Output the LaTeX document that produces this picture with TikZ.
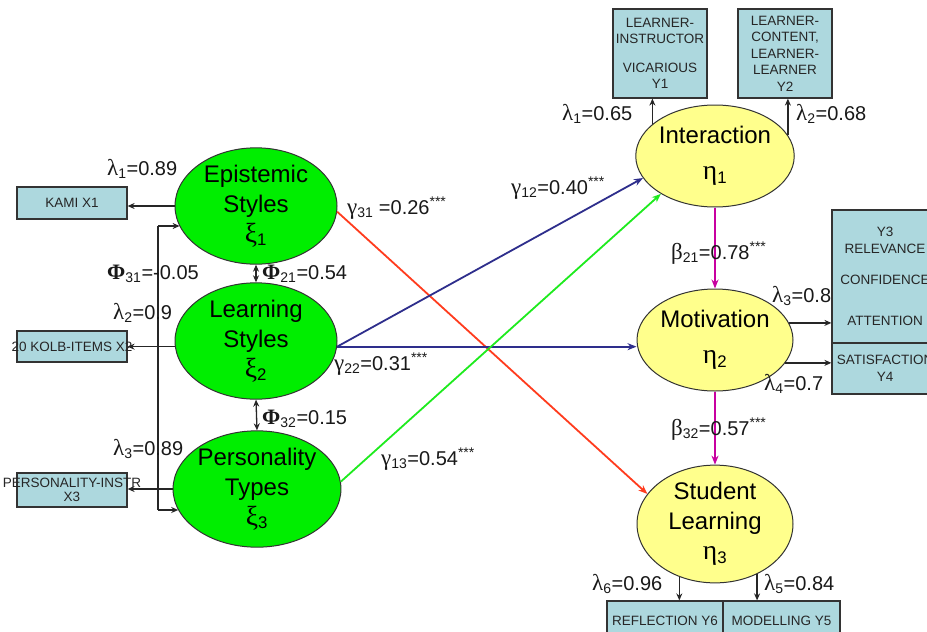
\documentclass[tikz,border=0pt]{standalone}
\usepackage{fontspec}
\setmainfont{Liberation Sans}
\newfontfamily\grk{Liberation Serif}
\usetikzlibrary{shapes.geometric,arrows.meta}
\definecolor{boxfill}{RGB}{173,216,222}
\definecolor{latgreen}{RGB}{0,238,0}
\definecolor{latyellow}{RGB}{255,255,140}
\definecolor{pathred}{RGB}{255,60,30}
\definecolor{pathnavy}{RGB}{46,46,140}
\definecolor{pathgreen}{RGB}{30,235,30}
\definecolor{pathmag}{RGB}{200,0,160}
% zero-width centred line, so long labels spill evenly past their box
\newcommand{\cw}[1]{\makebox[0pt]{#1}}
% upright Greek letters, a little larger than the Latin text
\newcommand{\gk}[1]{\scalebox{1.15}{\grk #1}}
\newcommand{\gkb}[1]{\scalebox{1.1}{\grk\bfseries #1}}
\begin{document}
\begin{tikzpicture}[x=1pt,y=-1pt,
  latent/.style={ellipse, draw=black!80, line width=1pt, minimum width=162pt,
    minimum height=102pt, inner sep=0pt, align=center,
    font=\fontsize{24}{30}\selectfont},
  exo/.style={latent, fill=latgreen},
  endo/.style={latent, fill=latyellow, minimum width=156pt},
  obs/.style={draw=black!80, line width=1.2pt, fill=boxfill, inner sep=0pt,
    align=center, font=\fontsize{13.5}{16.5}\selectfont, text=black!85},
  arr/.style={-{Stealth[length=7pt,width=6pt]}, line width=1.3pt, draw=black!85},
  dbl/.style={{Stealth[length=7pt,width=6pt]}-{Stealth[length=7pt,width=6pt]},
    line width=1.3pt, draw=black!85},
  gpath/.style={-{Stealth[length=9pt,width=7pt]}, line width=1.8pt},
  coef/.style={font=\fontsize{20}{24}\selectfont, text=black!90, inner sep=0pt,
    anchor=base west},
]
\useasboundingbox (0,0) rectangle (927,632);
\clip (0,0) rectangle (927,632);
\fill[white] (0,0) rectangle (927,632);

% observed indicators
\node[obs, minimum width=110pt, minimum height=32pt] (kami) at (72,203) {\cw{KAMI X1}};
\node[obs, minimum width=110pt, minimum height=31pt] (kolb) at (72,346.5) {\cw{20 KOLB-ITEMS X2}};
\node[obs, minimum width=110pt, minimum height=34pt, font=\fontsize{13.5}{14}\selectfont]
  (pers) at (72,490) {\cw{PERSONALITY-INSTR}\\\cw{X3}};
\node[obs, minimum width=94pt, minimum height=89pt] (y1) at (660,53.5)
  {\cw{LEARNER-}\\\cw{INSTRUCTOR}\\[12pt]\cw{VICARIOUS}\\\cw{Y1}};
\node[obs, minimum width=94pt, minimum height=89pt] (y2) at (785,53.5)
  {\cw{LEARNER-}\\\cw{CONTENT,}\\\cw{LEARNER-}\\\cw{LEARNER}\\\cw{Y2}};
\node[obs, minimum width=106pt, minimum height=133pt] (y3) at (885,276.5)
  {\cw{Y3}\\\cw{RELEVANCE}\\[15pt]\cw{CONFIDENCE}\\[24pt]\cw{ATTENTION}};
\node[obs, minimum width=106pt, minimum height=51pt] (y4) at (885,368.5)
  {\cw{SATISFACTION}\\\cw{Y4}};
\node[obs, minimum width=116pt, minimum height=40pt] (y6) at (665,621) {\cw{REFLECTION Y6}};
\node[obs, minimum width=117pt, minimum height=40pt] (y5) at (781.5,621) {\cw{MODELLING Y5}};

% latent variables
\node[exo] (epi) at (256,206) {Epistemic\\Styles\\\gk{ξ}\textsubscript{1}};
\node[exo] (ls) at (256,341) {Learning\\Styles\\\gk{ξ}\textsubscript{2}};
\node[exo] (pt) at (257,489) {Personality\\Types\\\gk{ξ}\textsubscript{3}};
\node[endo] (int) at (715,156) {Interaction\\[6pt]\gk{η}\textsubscript{1}};
\node[endo] (mot) at (715,340) {Motivation\\[6pt]\gk{η}\textsubscript{2}};
\node[endo] (sl) at (715,524) {Student\\Learning\\\gk{η}\textsubscript{3}};

% measurement arrows
\draw[arr] (epi.west) -- (epi.west -| kami.east);
\draw[arr] (ls.184.2) -- (ls.184.2 -| kolb.east);
\draw[arr] (pt.west) -- (pt.west -| pers.east);
\draw[arr] (int.153.5) -- (int.153.5 |- y1.south);
\draw[arr] (int.16.6) -- (int.16.6 |- y2.south);
\draw[arr] (mot.13.85) -- (mot.13.85 -| y3.west);
\draw[arr] (mot.342.7) -- (mot.342.7 -| y4.west);
\draw[arr] (sl.236.6) -- (sl.236.6 |- y6.north);
\draw[arr] (sl.310.5) -- (sl.310.5 |- y5.north);

% covariances among the exogenous factors
\coordinate (cA) at (158,226);
\coordinate (cB) at (158,510);
\draw[line width=1.3pt, draw=black!85] (cA) -- (cB);
\draw[arr] (cA) -- (cA -| epi.195.6);
\draw[arr] (cB) -- (cB -| pt.165);
\draw[dbl] (epi.south) -- (ls.north);
\draw[dbl] (ls.south) -- (pt.north);

% structural paths
\draw[gpath, pathred] (epi.356.5) -- (sl.156);
\draw[gpath, pathnavy] (ls.356) -- (int.197.4);
\draw[gpath, pathnavy] (ls.356) -- (ls.356 -| mot.west);
\draw[gpath, pathgreen] (pt.5) -- (int.215);
\draw[gpath, pathmag] (int.south) -- (mot.north);
\draw[gpath, pathmag] (mot.south) -- (sl.north);

% coefficients
\node[coef] (c1) at (107,175) {\gk{λ}\textsubscript{1}=0.89};
\node[coef] (c2) at (107,279) {\gkb{Φ}\textsubscript{31}=-0.05};
\node[coef] (c3) at (113,319) {\gk{λ}\textsubscript{2}=0.9};
\node[coef] (c4) at (262,279) {\gkb{Φ}\textsubscript{21}=0.54};
\node[coef] (c5) at (262,424) {\gkb{Φ}\textsubscript{32}=0.15};
\node[coef] (c6) at (113,455) {\gk{λ}\textsubscript{3}=0.89};
\node[coef] (c7) at (347,214) {\gk{γ}\textsubscript{31} =0.26\textsuperscript{***}};
\node[coef] (c8) at (511,194) {\gk{γ}\textsubscript{12}=0.40\textsuperscript{***}};
\node[coef] (c9) at (334,370) {\gk{γ}\textsubscript{22}=0.31\textsuperscript{***}};
\node[coef] (c10) at (381,465) {\gk{γ}\textsubscript{13}=0.54\textsuperscript{***}};
\node[coef] (c11) at (671,259) {\gk{β}\textsubscript{21}=0.78\textsuperscript{***}};
\node[coef] (c12) at (671,435) {\gk{β}\textsubscript{32}=0.57\textsuperscript{***}};
\node[coef] (c13) at (562,120) {\gk{λ}\textsubscript{1}=0.65};
\node[coef] (c14) at (796,120) {\gk{λ}\textsubscript{2}=0.68};
\node[coef] (c15) at (772,302) {\gk{λ}\textsubscript{3}=0.8};
\node[coef] (c16) at (764,390) {\gk{λ}\textsubscript{4}=0.7};
\node[coef] (c17) at (592,590) {\gk{λ}\textsubscript{6}=0.96};
\node[coef] (c18) at (764,590) {\gk{λ}\textsubscript{5}=0.84};
\end{tikzpicture}
\end{document}
